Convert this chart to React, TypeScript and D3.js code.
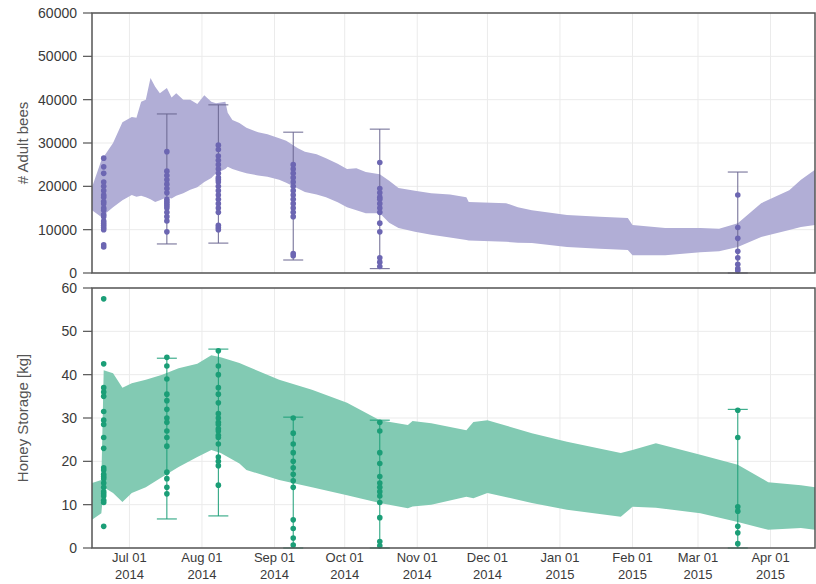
import React from 'react';
import * as d3 from 'd3';

// observation days (hive inspections)
const obsDates = ['2014-06-20', '2014-07-17', '2014-08-08', '2014-09-09', '2014-10-16', '2015-03-18'];

const beeObs = [
  [26500, 24500, 23000, 21000, 20000, 19000, 18000, 17500, 16500, 16000, 15000, 14500, 13500, 13000, 12000, 11500, 11000, 10500, 10000, 6500, 6000],
  [28000, 23500, 22500, 21500, 20500, 19500, 18500, 17000, 16500, 16000, 15500, 15000, 14000, 13000, 12000, 9500],
  [29500, 28500, 27000, 26000, 25000, 24000, 23000, 22000, 21500, 21000, 20000, 19000, 18000, 17000, 16000, 15000, 14000, 11000, 10500, 10000],
  [25000, 24000, 23000, 22000, 21000, 20000, 19000, 18000, 17000, 16000, 15000, 14000, 13000, 4500, 4000],
  [25500, 19500, 18500, 17500, 17000, 16000, 15000, 14000, 11500, 9500, 3500, 2500, 1500],
  [18000, 10500, 8000, 5000, 3500, 2000, 1000, 500],
];
const beeErrLow = [null, 6700, 6900, 3000, 1000, 0];
const beeErrHigh = [null, 36700, 38800, 32500, 33200, 23300];

const honeyObs = [
  [57.5, 42.5, 37, 36, 35, 31.5, 29.5, 28.5, 25.5, 23, 18.5, 18, 17, 16.5, 16, 15, 14, 13, 12.5, 12, 11, 10.5, 5],
  [44, 42, 39, 35.5, 34, 32, 30, 29, 27, 25.5, 23.5, 17.5, 16, 14, 12.5],
  [45.5, 42, 40, 37, 35.5, 33.5, 31, 30, 29, 28.5, 27.5, 27, 26, 25.5, 24, 21, 20, 19, 14.5],
  [30, 26.5, 24, 22, 20, 18.5, 17, 15.5, 14, 6.5, 4.5, 2.3, 0.7],
  [29, 27, 22, 19.5, 16.5, 15, 14, 13, 12, 10.5, 7, 1.5, 0.5],
  [31.8, 25.5, 9.5, 8.5, 5, 3.5, 1],
];
const honeyErrLow = [null, 6.7, 7.4, 0, 0, 0];
const honeyErrHigh = [null, 43.8, 45.9, 30.2, 29.5, 32];

// simulated range (model envelope)
const beeBandDates = ['2014-06-15', '2014-06-19', '2014-06-24', '2014-06-28', '2014-07-02', '2014-07-04', '2014-07-06', '2014-07-08', '2014-07-10', '2014-07-12', '2014-07-14', '2014-07-17', '2014-07-19', '2014-07-21', '2014-07-24', '2014-07-27', '2014-07-30', '2014-08-02', '2014-08-05', '2014-08-07', '2014-08-11', '2014-08-12', '2014-08-14', '2014-08-17', '2014-08-20', '2014-08-25', '2014-08-29', '2014-09-03', '2014-09-06', '2014-09-11', '2014-09-14', '2014-09-19', '2014-09-23', '2014-09-28', '2014-10-02', '2014-10-06', '2014-10-10', '2014-10-16', '2014-10-20', '2014-10-24', '2014-10-31', '2014-11-07', '2014-11-15', '2014-11-22', '2014-11-23', '2014-12-09', '2014-12-14', '2014-12-20', '2015-01-04', '2015-01-18', '2015-01-30', '2015-02-01', '2015-02-15', '2015-03-02', '2015-03-10', '2015-03-18', '2015-03-28', '2015-04-09', '2015-04-14', '2015-04-20'];
const beeUpper = [19800, 26000, 30000, 34800, 36000, 35800, 39500, 40000, 45000, 43000, 41500, 42700, 40500, 41500, 40000, 40000, 39000, 41000, 39500, 39200, 39500, 37000, 35300, 34600, 33500, 32500, 32000, 31100, 30500, 28800, 28000, 27400, 26500, 25200, 24000, 24200, 23300, 22800, 21300, 19600, 19000, 18400, 18100, 17500, 16400, 16100, 15200, 14500, 13400, 13000, 12700, 11100, 10400, 10400, 10200, 11500, 16100, 19100, 21500, 23800];
const beeLower = [14500, 12900, 15200, 16800, 18000, 17600, 17800, 17500, 17000, 16400, 16800, 17500, 17200, 17800, 18400, 19200, 19800, 21000, 21900, 23000, 24000, 24500, 24000, 23500, 23000, 22500, 22200, 21500, 20800, 19500, 18700, 18100, 17500, 16300, 15200, 14500, 13800, 13800, 11600, 10400, 9500, 8800, 8200, 7600, 7500, 7200, 7000, 6900, 6000, 5600, 5300, 4100, 4100, 4800, 5000, 6000, 8300, 9900, 10600, 11100];

const honeyBandDates = ['2014-06-15', '2014-06-19', '2014-06-20', '2014-06-24', '2014-06-28', '2014-07-02', '2014-07-08', '2014-07-15', '2014-07-22', '2014-07-30', '2014-08-05', '2014-08-09', '2014-08-17', '2014-08-20', '2014-09-03', '2014-09-17', '2014-10-02', '2014-10-16', '2014-10-28', '2014-10-30', '2014-11-07', '2014-11-22', '2014-11-25', '2014-12-01', '2014-12-20', '2015-01-04', '2015-01-27', '2015-02-01', '2015-02-11', '2015-03-02', '2015-03-18', '2015-03-31', '2015-04-14', '2015-04-20'];
const honeyUpper = [15.0, 15.7, 41.0, 40.3, 37.0, 38.0, 38.8, 40.0, 41.5, 42.5, 44.5, 44.0, 42.7, 42.0, 38.8, 36.5, 33.5, 29.5, 28.4, 29.3, 28.8, 27.2, 29.1, 29.5, 26.5, 24.5, 21.9, 22.6, 24.2, 21.5, 19.2, 15.2, 14.5, 14.0];
const honeyLower = [6.5, 8.0, 14.0, 12.7, 10.6, 12.7, 14.0, 16.4, 18.7, 21.0, 22.6, 21.9, 19.5, 18.0, 15.7, 14.0, 12.2, 10.4, 9.2, 9.6, 10.0, 11.8, 11.5, 12.7, 10.4, 8.8, 7.2, 9.5, 9.3, 8.0, 6.0, 4.2, 4.6, 4.2];

const monthTicks = ['2014-07-01', '2014-08-01', '2014-09-01', '2014-10-01', '2014-11-01', '2014-12-01', '2015-01-01', '2015-02-01', '2015-03-01', '2015-04-01'];
const beeTicks = [0, 10000, 20000, 30000, 40000, 50000, 60000];
const honeyTicks = [0, 10, 20, 30, 40, 50, 60];

const parse = d3.timeParse('%Y-%m-%d');
const left = 92;
const right = 815;
const font = '"Liberation Sans", Arial, sans-serif';

const x = d3.scaleTime()
  .domain([parse('2014-06-15'), parse('2015-04-20')])
  .range([left, right]);

function Panel({ y0, y1, yMax, ticks, bandDates, upper, lower, obs, errLow, errHigh, color, band, errColor, label }) {
  const y = d3.scaleLinear().domain([0, yMax]).range([y1, y0]);
  const rows = bandDates.map((d, i) => ({ date: parse(d), hi: upper[i], lo: lower[i] }));
  const area = d3.area()
    .x(d => x(d.date))
    .y0(d => y(d.lo))
    .y1(d => y(d.hi));

  return (
    <g>
      {/* grid */}
      {ticks.map(t => (
        <line key={'h' + t} x1={left} x2={right} y1={y(t)} y2={y(t)} stroke="#ebebeb" />
      ))}
      {monthTicks.map(t => (
        <line key={'v' + t} x1={x(parse(t))} x2={x(parse(t))} y1={y0} y2={y1} stroke="#ebebeb" />
      ))}
      <path d={area(rows)} fill={band} />
      {obs.map((vals, i) => {
        const cx = x(parse(obsDates[i]));
        return (
          <g key={i}>
            {errLow[i] !== null && (
              <g stroke={errColor} strokeWidth={1}>
                <line x1={cx} x2={cx} y1={y(errLow[i])} y2={y(errHigh[i])} />
                <line x1={cx - 10} x2={cx + 10} y1={y(errHigh[i])} y2={y(errHigh[i])} />
                <line x1={cx - 10} x2={cx + 10} y1={y(errLow[i])} y2={y(errLow[i])} />
              </g>
            )}
            {vals.map((v, j) => (
              <circle key={j} cx={cx} cy={y(v)} r={2.8} fill={color} />
            ))}
          </g>
        );
      })}
      {/* frame */}
      <rect x={left} y={y0} width={right - left} height={y1 - y0} fill="none" stroke="#555" strokeWidth={1.5} />
      {ticks.map(t => (
        <g key={'t' + t}>
          <line x1={left - 9} x2={left} y1={y(t)} y2={y(t)} stroke="#555" strokeWidth={1.2} />
          <text x={left - 15} y={y(t)} dy="0.35em" textAnchor="end" fontSize={14} fill="#3a3a3a" fontFamily={font}>{t}</text>
        </g>
      ))}
      <text transform={`translate(28,${(y0 + y1) / 2}) rotate(-90)`} textAnchor="middle" fontSize={15} fill="#555" fontFamily={font}>{label}</text>
    </g>
  );
}

export default function App() {
  const fmtMonth = d3.timeFormat('%b %d');
  const fmtYear = d3.timeFormat('%Y');
  return (
    <svg width={816} height={584} style={{ position: 'absolute', left: 0, top: 0, background: '#fff' }}>
      <Panel y0={13} y1={273} yMax={60000} ticks={beeTicks} bandDates={beeBandDates} upper={beeUpper} lower={beeLower}
        obs={beeObs} errLow={beeErrLow} errHigh={beeErrHigh} color="#6c66b2" band="#b1aed6" errColor="#6a6690" label="# Adult bees" />
      <Panel y0={288} y1={548} yMax={60} ticks={honeyTicks} bandDates={honeyBandDates} upper={honeyUpper} lower={honeyLower}
        obs={honeyObs} errLow={honeyErrLow} errHigh={honeyErrHigh} color="#1b9e77" band="#82cab3" errColor="#1b9e77" label="Honey Storage [kg]" />
      {monthTicks.map(t => {
        const d = parse(t);
        return (
          <text key={t} x={x(d)} y={562} textAnchor="middle" fontSize={13} fill="#3a3a3a" fontFamily={font}>
            <tspan x={x(d)}>{fmtMonth(d)}</tspan>
            <tspan x={x(d)} dy={17}>{fmtYear(d)}</tspan>
          </text>
        );
      })}
    </svg>
  );
}
